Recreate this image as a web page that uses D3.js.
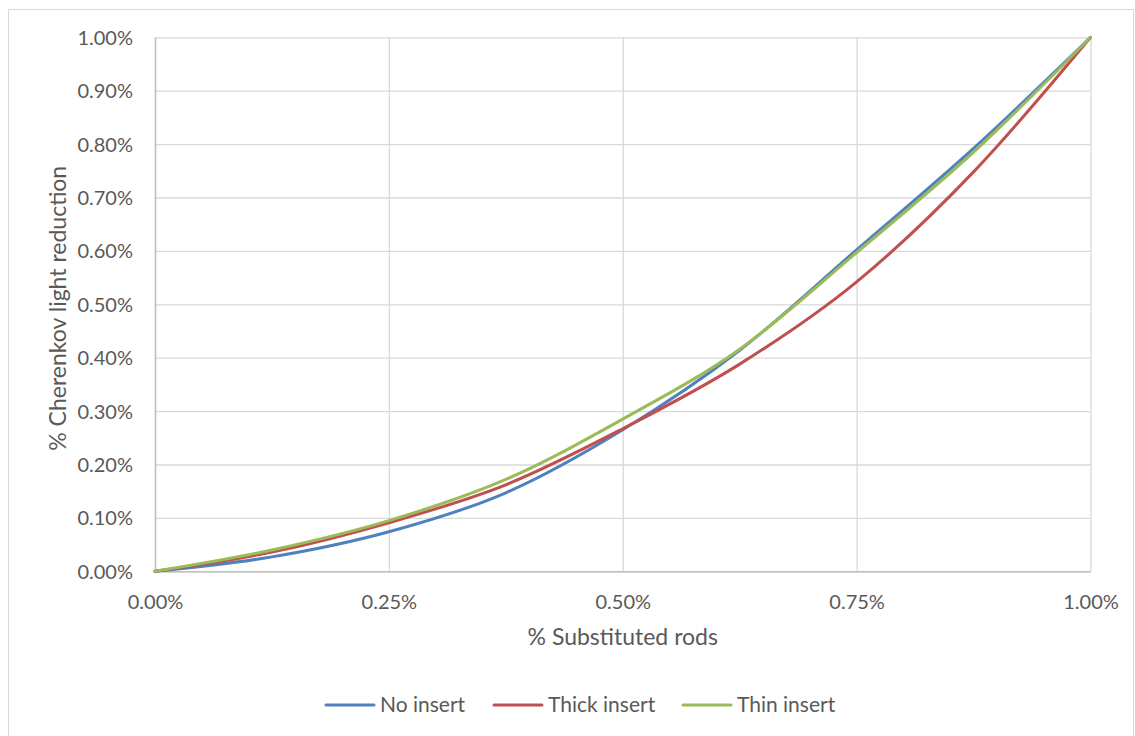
<!DOCTYPE html>
<html><head><meta charset="utf-8">
<script src="https://cdn.jsdelivr.net/npm/d3@7"></script>
<style>
html,body{margin:0;padding:0;background:#fff;}
svg text{font-family:Lato,"Open Sans",sans-serif;fill:#595959;}
</style></head>
<body>
<svg id="chart" width="1135" height="736"></svg>
<script>
const xValues = [0, 0.125, 0.25, 0.375, 0.5, 0.625, 0.75, 0.875, 1.0];
const noInsert = [0, 0.027, 0.074, 0.147, 0.265, 0.414, 0.602, 0.792, 1.0];
const thickInsert = [0, 0.036, 0.091, 0.162, 0.267, 0.388, 0.542, 0.748, 1.0];
const thinInsert = [0, 0.040, 0.095, 0.172, 0.285, 0.416, 0.597, 0.785, 1.0];
const seriesNames = ["No insert", "Thick insert", "Thin insert"];
const seriesColors = ["#4F81BD", "#C0504D", "#9BBB59"];
const xTicks = [0, 0.25, 0.5, 0.75, 1.0];
const yTicks = [0, 0.1, 0.2, 0.3, 0.4, 0.5, 0.6, 0.7, 0.8, 0.9, 1.0];
const xTitle = "% Substituted rods";
const yTitle = "% Cherenkov light reduction";

const svg = d3.select("#chart");
const L = 155, R = 1090.5, T = 37.3, B = 571.3;

svg.append("rect").attr("x", 8.5).attr("y", 9.5).attr("width", 1125).attr("height", 740)
  .attr("fill", "#fff").attr("stroke", "#d9d9d9").attr("stroke-width", 1);

const x = d3.scaleLinear().domain([0, 1]).range([L, R]);
const y = d3.scaleLinear().domain([0, 1]).range([B, T]);
const fmt = d => d.toFixed(2) + "%";

// gridlines
const gy = svg.append("g").attr("transform", `translate(${L},0)`)
  .call(d3.axisLeft(y).tickValues(yTicks).tickSize(-(R - L)).tickFormat(""));
gy.select(".domain").remove();
gy.selectAll("line").attr("stroke", "#d9d9d9").attr("stroke-width", 1.3);
const gx = svg.append("g").attr("transform", `translate(0,${B})`)
  .call(d3.axisBottom(x).tickValues(xTicks).tickSize(-(B - T)).tickFormat(""));
gx.select(".domain").remove();
gx.selectAll("line").attr("stroke", "#d9d9d9").attr("stroke-width", 1.3);

// axes
const ay = svg.append("g").attr("transform", `translate(${L},0)`)
  .call(d3.axisLeft(y).tickValues(yTicks).tickSize(0).tickPadding(22).tickFormat(fmt));
ay.select(".domain").attr("stroke", "#bfbfbf").attr("stroke-width", 1.5);
ay.selectAll("text").attr("font-size", 20).attr("dy", "0.35em").attr("fill", "#595959");
const ax = svg.append("g").attr("transform", `translate(0,${B})`)
  .call(d3.axisBottom(x).tickValues(xTicks).tickSize(0).tickPadding(22).tickFormat(fmt));
ax.select(".domain").attr("stroke", "#bfbfbf").attr("stroke-width", 1.5);
ax.selectAll("text").attr("font-size", 20).attr("dy", "0.35em").attr("fill", "#595959").attr("y", 31);

svg.append("text").attr("x", (L + R) / 2).attr("y", 645).attr("text-anchor", "middle")
  .attr("font-size", 23).text(xTitle);
svg.append("text").attr("transform", `translate(66,${(T + B) / 2 + 4}) rotate(-90)`)
  .attr("text-anchor", "middle").attr("font-size", 23).text(yTitle);

const data = [noInsert, thickInsert, thinInsert];
const line = d3.line().x((d, i) => x(xValues[i])).y(d => y(d)).curve(d3.curveCatmullRom.alpha(0));
data.forEach((vals, k) => {
  svg.append("path").datum(vals).attr("d", line).attr("fill", "none")
    .attr("stroke", seriesColors[k]).attr("stroke-width", 3).attr("stroke-linejoin", "round").attr("stroke-linecap", "round");
});

// legend
const legX = [326, 494, 683];
const lg = svg.append("g");
seriesNames.forEach((n, k) => {
  lg.append("line").attr("x1", legX[k]).attr("x2", legX[k] + 48).attr("y1", 705).attr("y2", 705)
    .attr("stroke", seriesColors[k]).attr("stroke-width", 3).attr("stroke-linecap", "round");
  lg.append("text").attr("x", legX[k] + 54).attr("y", 705).attr("dy", "0.35em")
    .attr("font-size", 21).text(n);
});
</script>
</body></html>
